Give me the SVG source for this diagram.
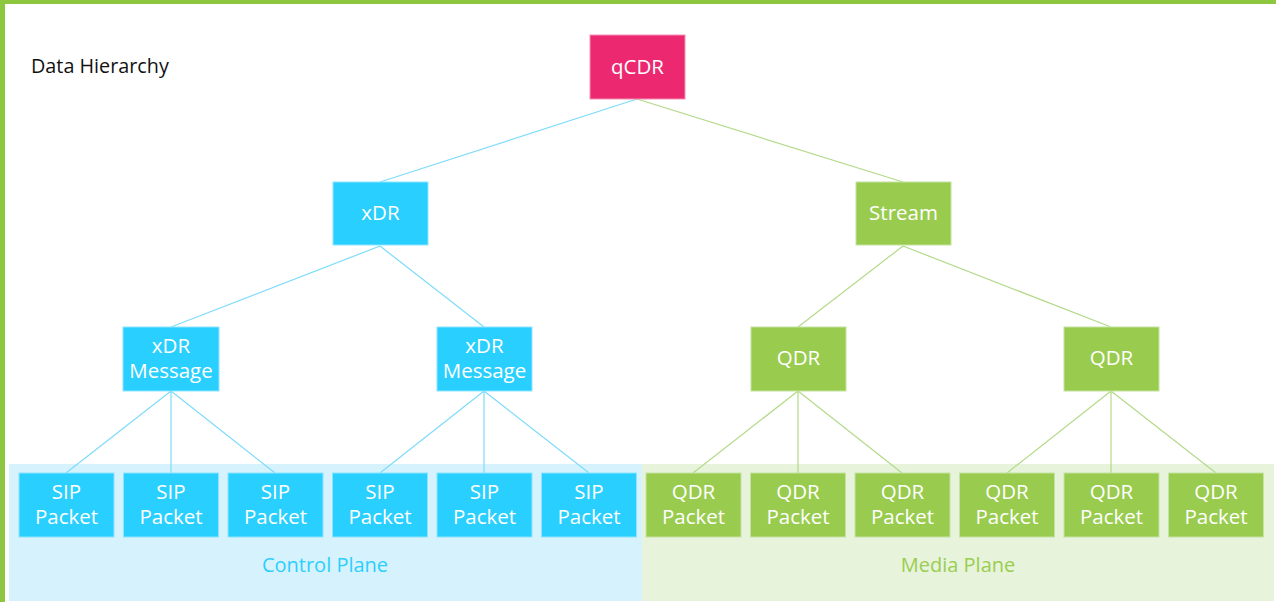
<svg xmlns="http://www.w3.org/2000/svg" width="1276" height="602" viewBox="0 0 1276 602">
<style>
  .t { font-family: "Open Sans", "Noto Sans", "Liberation Sans", sans-serif; font-size: 20.5px; fill: #ffffff; text-anchor: middle; }
  .b { fill: #28CFFF; stroke: #8FE4FF; stroke-width: 1; }
  .g { fill: #99CC4E; stroke: #C4E3A2; stroke-width: 1; }
  .lb { stroke: #7EDBFB; stroke-width: 1.2; fill: none; }
  .lg { stroke: #B3DA8A; stroke-width: 1.2; fill: none; }
</style>
<rect x="0" y="0" width="1276" height="602" fill="#ffffff"/>
<rect x="0" y="0" width="1276" height="4" fill="#8DC63F"/>
<rect x="0" y="0" width="5" height="602" fill="#8DC63F"/>
<rect x="9" y="464" width="633" height="137" fill="#D6F3FD"/>
<rect x="642" y="464" width="632" height="137" fill="#E8F3DC"/>
<text x="31" y="73" font-family="Open Sans, Noto Sans, Liberation Sans, sans-serif" font-size="19.8" fill="#111111">Data Hierarchy</text>
<text x="325" y="572" class="t" style="fill:#2BCFFF;font-size:20px">Control Plane</text>
<text x="958" y="572" class="t" style="fill:#9ACD50;font-size:20px">Media Plane</text>
<g id="connectors">
  <path class="lb" d="M637 99 L380 182"/>
  <path class="lg" d="M637 99 L903 182"/>
  <path class="lb" d="M380 246 L171 327 M380 246 L484 327"/>
  <path class="lg" d="M903 246 L798 327 M903 246 L1111 327"/>
  <path class="lb" d="M171 391 L66 473 M171 391 L171 473 M171 391 L275 473"/>
  <path class="lb" d="M484 391 L380 473 M484 391 L484 473 M484 391 L589 473"/>
  <path class="lg" d="M798 391 L693 473 M798 391 L798 473 M798 391 L902 473"/>
  <path class="lg" d="M1111 391 L1007 473 M1111 391 L1111 473 M1111 391 L1216 473"/>
</g>
<g id="qCDR"><rect x="590" y="35" width="95" height="64" fill="#EB2870" stroke="#F590B5"/><text class="t" x="637.5" y="74">qCDR</text></g>
<g id="xDR"><rect class="b" x="333" y="182" width="95" height="63"/><text class="t" x="380.5" y="220">xDR</text></g>
<g id="Stream"><rect class="g" x="856" y="182" width="95" height="63"/><text class="t" x="903.5" y="220">Stream</text></g>
<g id="xDRMessage1"><rect class="b" x="123" y="327" width="96" height="64"/><text class="t" x="171" y="353">xDR</text><text class="t" x="171" y="378">Message</text></g>
<g id="xDRMessage2"><rect class="b" x="437" y="327" width="95" height="64"/><text class="t" x="484.5" y="353">xDR</text><text class="t" x="484.5" y="378">Message</text></g>
<g id="QDR1"><rect class="g" x="751" y="327" width="95" height="64"/><text class="t" x="798.5" y="365">QDR</text></g>
<g id="QDR2"><rect class="g" x="1064" y="327" width="95" height="64"/><text class="t" x="1111.5" y="365">QDR</text></g>
<g id="SIP1"><rect class="b" x="19" y="473" width="95" height="64"/><text class="t" x="66.5" y="499">SIP</text><text class="t" x="66.5" y="524">Packet</text></g>
<g id="SIP2"><rect class="b" x="123.5" y="473" width="95" height="64"/><text class="t" x="171" y="499">SIP</text><text class="t" x="171" y="524">Packet</text></g>
<g id="SIP3"><rect class="b" x="228" y="473" width="95" height="64"/><text class="t" x="275.5" y="499">SIP</text><text class="t" x="275.5" y="524">Packet</text></g>
<g id="SIP4"><rect class="b" x="332.5" y="473" width="95" height="64"/><text class="t" x="380" y="499">SIP</text><text class="t" x="380" y="524">Packet</text></g>
<g id="SIP5"><rect class="b" x="437" y="473" width="95" height="64"/><text class="t" x="484.5" y="499">SIP</text><text class="t" x="484.5" y="524">Packet</text></g>
<g id="SIP6"><rect class="b" x="541.5" y="473" width="95" height="64"/><text class="t" x="589" y="499">SIP</text><text class="t" x="589" y="524">Packet</text></g>
<g id="QDRP1"><rect class="g" x="646" y="473" width="95" height="64"/><text class="t" x="693.5" y="499">QDR</text><text class="t" x="693.5" y="524">Packet</text></g>
<g id="QDRP2"><rect class="g" x="750.5" y="473" width="95" height="64"/><text class="t" x="798" y="499">QDR</text><text class="t" x="798" y="524">Packet</text></g>
<g id="QDRP3"><rect class="g" x="855" y="473" width="95" height="64"/><text class="t" x="902.5" y="499">QDR</text><text class="t" x="902.5" y="524">Packet</text></g>
<g id="QDRP4"><rect class="g" x="959.5" y="473" width="95" height="64"/><text class="t" x="1007" y="499">QDR</text><text class="t" x="1007" y="524">Packet</text></g>
<g id="QDRP5"><rect class="g" x="1064" y="473" width="95" height="64"/><text class="t" x="1111.5" y="499">QDR</text><text class="t" x="1111.5" y="524">Packet</text></g>
<g id="QDRP6"><rect class="g" x="1168.5" y="473" width="95" height="64"/><text class="t" x="1216" y="499">QDR</text><text class="t" x="1216" y="524">Packet</text></g>
</svg>
